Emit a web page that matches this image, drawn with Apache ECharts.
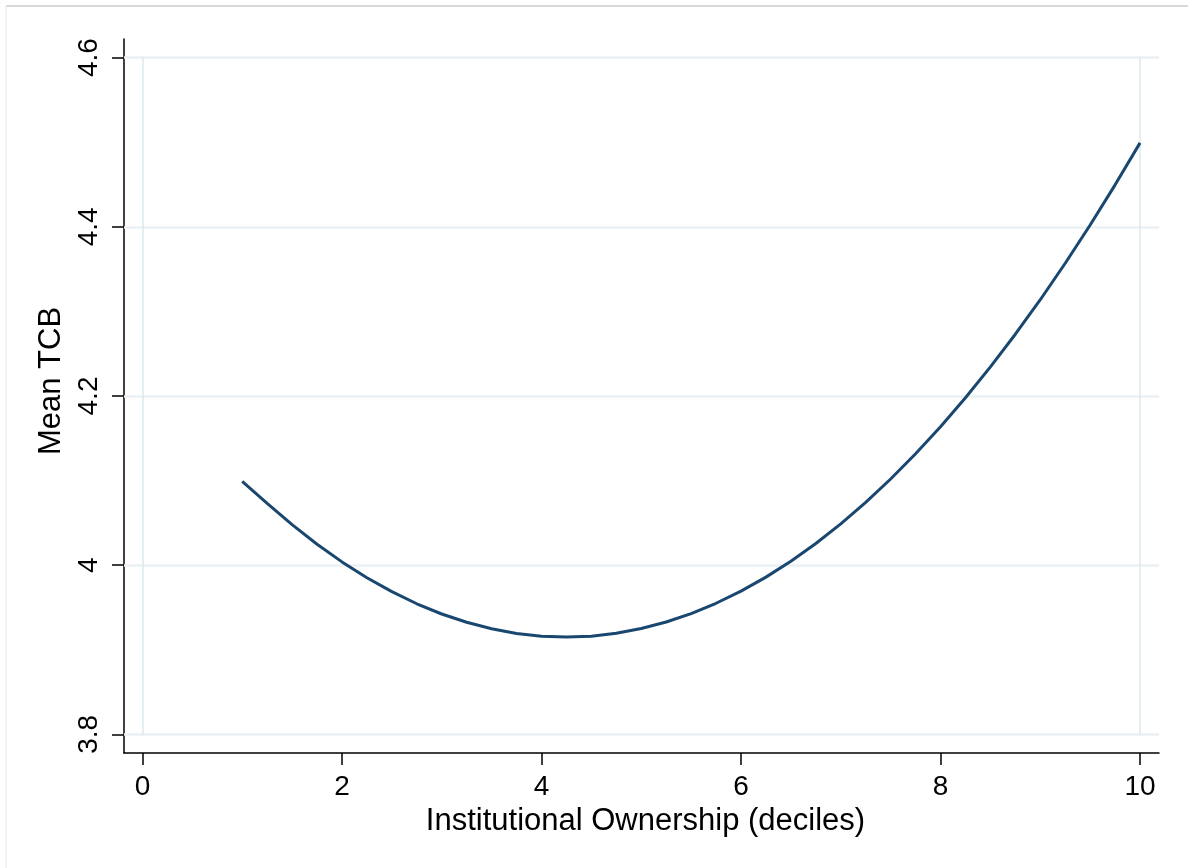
<!DOCTYPE html>
<html>
<head>
<meta charset="utf-8">
<script src="https://cdn.jsdelivr.net/npm/echarts@6/dist/echarts.min.js"></script>
<style>
html,body{margin:0;padding:0;background:#fff;}
#chart{width:1188px;height:868px;}
</style>
</head>
<body>
<div id="chart"></div>
<script>
// Institutional ownership deciles (x) and fitted mean TCB (y)
const deciles = [1,1.25,1.5,1.75,2,2.25,2.5,2.75,3,3.25,3.5,3.75,4,4.25,4.5,4.75,5,5.25,5.5,5.75,6,6.25,6.5,6.75,7,7.25,7.5,7.75,8,8.25,8.5,8.75,9,9.25,9.5,9.75,10];
const meanTCB = [4.099,4.0732,4.0479,4.0248,4.0039,3.9852,3.9687,3.9544,3.9423,3.9325,3.9248,3.9193,3.9161,3.9150,3.9161,3.9195,3.9251,3.9328,3.9428,3.9550,3.9693,3.9859,4.0047,4.0257,4.0489,4.0743,4.1019,4.1317,4.1637,4.1979,4.2344,4.2730,4.3138,4.3569,4.4021,4.4496,4.4992];
const xTicks = [0,2,4,6,8,10];
const yTicks = [3.8,4,4.2,4.4,4.6];
const xTitle = 'Institutional Ownership (deciles)';
const yTitle = 'Mean TCB';

const FONT = '"Liberation Sans", Arial, sans-serif';
const chart = echarts.init(document.getElementById('chart'), null, {renderer:'canvas'});

const lineData = deciles.map((x,i)=>[x, meanTCB[i]]);
const hGrid = yTicks.map(v=>({yAxis:v, lineStyle:{color:'#eaf1f4', width:2.5, type:'solid'}}));
const vGrid = [xTicks[0], xTicks[xTicks.length-1]].map(v=>[
  {coord:[v, yTicks[0]], lineStyle:{color:'#dde8ef', width:1.5, type:'solid'}},
  {coord:[v, yTicks[yTicks.length-1]]}
]);

chart.setOption({
  backgroundColor:'#ffffff',
  animation:false,
  graphic:[
    {type:'line', shape:{x1:6,y1:6,x2:1188,y2:6}, style:{stroke:'#cccccc', lineWidth:1.5}, silent:true},
    {type:'line', shape:{x1:6,y1:6,x2:6,y2:868}, style:{stroke:'#eeeeee', lineWidth:1.5}, silent:true}
  ],
  grid:{left:124, right:29, top:39, bottom:115, containLabel:false},
  xAxis:{
    type:'value', min:-0.185, max:10.19,
    name:xTitle, nameLocation:'middle', nameGap:44,
    nameTextStyle:{fontFamily:FONT, fontSize:31, color:'#000', padding:[0,0,0,8]},
    axisLine:{show:true, onZero:false, lineStyle:{color:'#000', width:1.5}},
    axisTick:{show:true, customValues:xTicks, length:12, inside:false, lineStyle:{color:'#000', width:1.5}},
    axisLabel:{customValues:xTicks, margin:20, fontFamily:FONT, fontSize:28, color:'#000'},
    splitLine:{show:false}
  },
  yAxis:{
    type:'value', min:3.778, max:4.622,
    name:yTitle, nameLocation:'middle', nameGap:52, nameRotate:90,
    nameTextStyle:{fontFamily:FONT, fontSize:31, color:'#000', padding:[0,0,0,30]},
    axisLine:{show:true, onZero:false, lineStyle:{color:'#000', width:1.5}},
    axisTick:{show:true, customValues:yTicks, length:12, inside:false, lineStyle:{color:'#000', width:1.5}},
    axisLabel:{customValues:yTicks, rotate:90, margin:21, fontFamily:FONT, fontSize:28, color:'#000'},
    splitLine:{show:false}
  },
  series:[
    {
      type:'line', data:[], silent:true, z:1,
      markLine:{silent:true, symbol:['none','none'], label:{show:false}, animation:false,
        data: hGrid.concat(vGrid)}
    },
    {
      type:'line', data:lineData, showSymbol:false, smooth:false, z:5,
      lineStyle:{color:'#1a476f', width:3}
    }
  ]
});
</script>
</body>
</html>
